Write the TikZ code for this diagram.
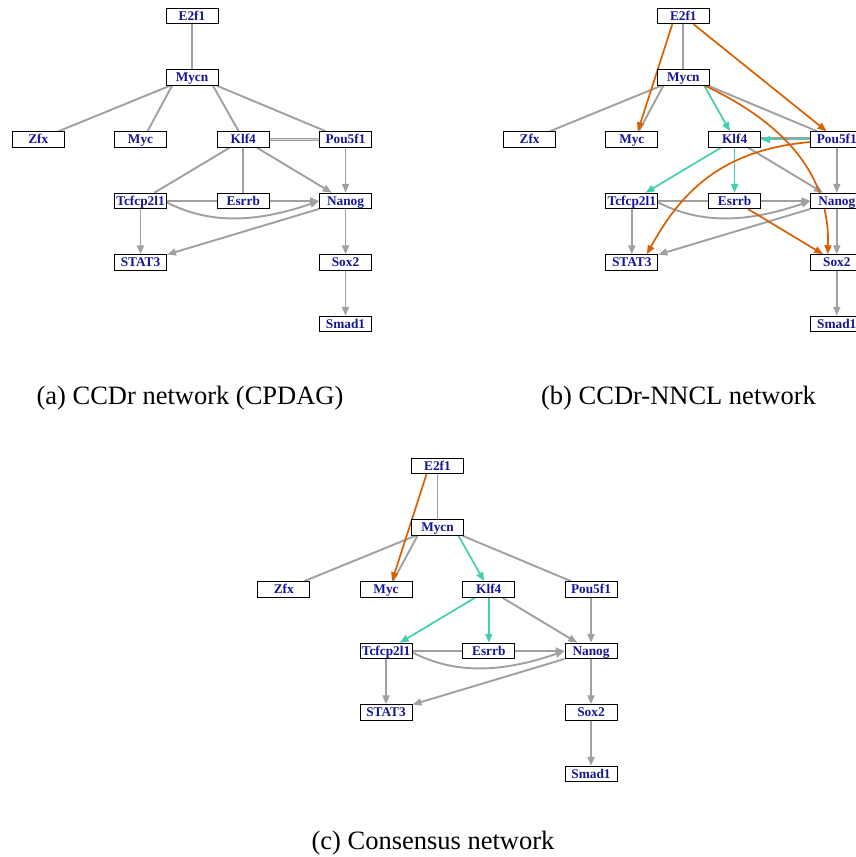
\documentclass[tikz,border=0pt]{standalone}
\usepackage{fontspec}
\setmainfont{Liberation Serif}
\usetikzlibrary{arrows.meta,backgrounds}
\definecolor{nodeblue}{RGB}{20,20,150}
\definecolor{edgegray}{RGB}{160,160,160}
\definecolor{tealc}{RGB}{64,208,176}
\definecolor{orangec}{RGB}{217,95,2}
\tikzset{
  gn/.style={draw=black, line width=1pt, fill=white, minimum width=52pt,
    minimum height=15.5pt, inner sep=0pt, text=nodeblue,
    text height=10pt, text depth=1.2pt,
    font=\fontsize{13.3}{13}\selectfont\bfseries},
  ge/.style={draw=edgegray, line width=1.9pt},
  ga/.style={ge, -{Triangle[length=9pt,width=7pt]}},
  te/.style={draw=tealc, line width=1.7pt, -{Triangle[length=9pt,width=7pt]}},
  oe/.style={draw=orangec, line width=1.7pt, -{Triangle[length=9pt,width=7pt]}},
  captext/.style={anchor=base, inner sep=0pt, font=\fontsize{26.5}{30}\selectfont},
}
\newcommand\placegenes[1]{%
  \node[gn] (#1E2f1) at (192,16) {E2f1};
  \node[gn] (#1Mycn) at (192,77.5) {Mycn};
  \node[gn] (#1Zfx) at (38.3,139.5) {Zfx};
  \node[gn] (#1Myc) at (140.5,139.5) {Myc};
  \node[gn] (#1Klf4) at (243.3,139.5) {Klf4};
  \node[gn] (#1Pou5f1) at (345.5,139.5) {Pou5f1};
  \node[gn] (#1Tcfcp2l1) at (140.5,201) {Tcfcp2l1};
  \node[gn] (#1Esrrb) at (243.3,201) {Esrrb};
  \node[gn] (#1Nanog) at (345.5,201) {Nanog};
  \node[gn] (#1STAT3) at (140.5,262.5) {STAT3};
  \node[gn] (#1Sox2) at (345.5,262.5) {Sox2};
  \node[gn] (#1Smad1) at (345.5,324) {Smad1};
}
\newcommand\commonedges[1]{%
  \draw[ge] (#1E2f1) -- (#1Mycn);
  \draw[ge] ([xshift=-22pt]#1Mycn.south) -- (#1Zfx);
  \draw[ge] ([xshift=-20pt]#1Mycn.south) -- ([xshift=7pt]#1Myc.north);
  \draw[ge] ([xshift=25pt]#1Mycn.south) -- (#1Pou5f1);
  \draw[ga] (#1Pou5f1) -- (#1Nanog);
  \draw[ga] (#1Klf4) -- (#1Nanog);
  \draw[ge] (#1Tcfcp2l1) -- (#1Esrrb);
  \draw[ga] (#1Esrrb) -- (#1Nanog);
  \draw[ga] ([yshift=-1.5pt]#1Tcfcp2l1.east) .. controls +(38.5,19.5) and +(-69.5,24) .. (#1Nanog.west);
  \draw[ga] (#1Tcfcp2l1) -- (#1STAT3);
  \draw[ga] (#1Nanog) -- (#1STAT3);
  \draw[ga] (#1Nanog) -- (#1Sox2);
  \draw[ga] (#1Sox2) -- (#1Smad1);
}
\begin{document}
\begin{tikzpicture}[x=1pt,y=-1pt]
\path[use as bounding box] (0,0) rectangle (855,857);

% ---------- panel (a)
\begin{scope}
  \placegenes{a}
\end{scope}
% ---------- panel (b)
\begin{scope}[shift={(491.3,0)}]
  \placegenes{b}
\end{scope}
% ---------- panel (c)
\begin{scope}[shift={(245.5,450)}]
  \placegenes{c}
\end{scope}

\begin{scope}[on background layer]
  % (a)
  \commonedges{a}
  \draw[ge] ([xshift=21pt]aMycn.south) -- (aKlf4);
  \draw[ge, double=edgegray!40, double distance=1pt, line width=1.2pt] (aKlf4) -- (aPou5f1);
  \draw[ge] (aKlf4) -- (aTcfcp2l1);
  \draw[ge] (aKlf4) -- (aEsrrb);
  % (b)
  \commonedges{b}
  \draw[ge] ([yshift=1.5pt]bPou5f1.west) -- ([yshift=1.5pt]bKlf4.east);
  \draw[te] ([xshift=21pt]bMycn.south) -- (bKlf4);
  \draw[te] (bPou5f1) -- (bKlf4);
  \draw[te] (bKlf4) -- (bTcfcp2l1);
  \draw[te] (bKlf4) -- (bEsrrb);
  \draw[oe] ([xshift=-11pt]bE2f1.south) -- ([xshift=6pt]bMyc.north);
  \draw[oe] (bE2f1) -- (bPou5f1);
  \draw[oe] ([xshift=21.7pt]bMycn.south) .. controls +(85,40) and +(2,-75) .. ([xshift=-9pt]bSox2.north);
  \draw[oe] ([yshift=-2.5pt]bPou5f1.west) .. controls +(-91,8) and +(33,-60) .. ([xshift=15pt]bSTAT3.north);
  \draw[oe] (bEsrrb) -- (bSox2);
  % (c)
  \commonedges{c}
  \draw[te] ([xshift=21pt]cMycn.south) -- (cKlf4);
  \draw[te] (cKlf4) -- (cTcfcp2l1);
  \draw[te] (cKlf4) -- (cEsrrb);
  \draw[oe] ([xshift=-11pt]cE2f1.south) -- ([xshift=6pt]cMyc.north);
\end{scope}

% captions
\node[captext] (capa) at (190,404) {(a) CCDr network (CPDAG)};
\node[captext] (capb) at (678.5,404) {(b) CCDr-NNCL network};
\node[captext] (capc) at (433,849) {(c) Consensus network};
\end{tikzpicture}
\end{document}
